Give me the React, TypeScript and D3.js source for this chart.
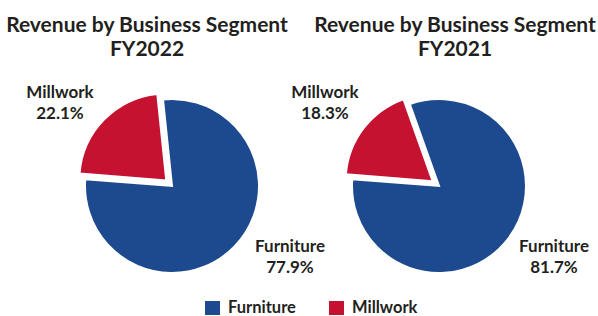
import React from "react";
import * as d3 from "d3";

const categories = ["Millwork", "Furniture"];
const colors = ["#C41230", "#1D4A8E"];
const years = ["FY2022", "FY2021"];
const values2022 = [22.1, 77.9];
const values2021 = [18.3, 81.7];
const legendOrder = ["Furniture", "Millwork"];

const W = 598;
const H = 316;
const FONT = "Lato, 'Open Sans', sans-serif";
const TEXT = "#231F20";

type PieSpec = {
  title: string;
  values: number[];
  cx: number;
  cy: number;
  titleX: number;
  millLabel: [number, number];
  furnLabel: [number, number];
};

const pies: PieSpec[] = [
  { title: years[0], values: values2022, cx: 172, cy: 186, titleX: 147, millLabel: [60, 98], furnLabel: [290, 252] },
  { title: years[1], values: values2021, cx: 439, cy: 186, titleX: 455, millLabel: [325, 98], furnLabel: [554, 252] },
];

const R = 87;
const START = (-85.5 * Math.PI) / 180;
const EXPLODE = 8;

function Pie({ spec }: { spec: PieSpec }) {
  const pie = d3
    .pie<number>()
    .sort(null)
    .value((d) => d)
    .startAngle(START)
    .endAngle(START + 2 * Math.PI);
  const arcs = pie(spec.values);
  const arc = d3.arc<d3.PieArcDatum<number>>().innerRadius(0).outerRadius(R);
  const labels = [spec.millLabel, spec.furnLabel];
  return (
    <g>
      <text x={spec.titleX} y={32} textAnchor="middle" fontFamily={FONT} fontWeight={700} fontSize={21} fill={TEXT}>
        Revenue by Business Segment
      </text>
      <text x={spec.titleX} y={56} textAnchor="middle" fontFamily={FONT} fontWeight={700} fontSize={21} fill={TEXT}>
        {spec.title}
      </text>
      {arcs.map((a, i) => {
        const mid = (a.startAngle + a.endAngle) / 2;
        const off = i === 0 ? EXPLODE : 0;
        const dx = Math.sin(mid) * off;
        const dy = -Math.cos(mid) * off;
        return (
          <path
            key={i}
            d={arc(a) || ""}
            transform={`translate(${spec.cx + dx},${spec.cy + dy})`}
            fill={colors[i]}
            stroke="#fff"
            strokeWidth={2}
          />
        );
      })}
      {arcs.map((a, i) => (
        <g key={"l" + i}>
          <text x={labels[i][0]} y={labels[i][1]} textAnchor="middle" fontFamily={FONT} fontWeight={700} fontSize={17} fill={TEXT}>
            {categories[i]}
          </text>
          <text x={labels[i][0]} y={labels[i][1] + 21} textAnchor="middle" fontFamily={FONT} fontWeight={700} fontSize={17} fill={TEXT}>
            {`${spec.values[i].toFixed(1)}%`}
          </text>
        </g>
      ))}
    </g>
  );
}

export default function App() {
  const legendX = [205, 329];
  return (
    <svg width={W} height={H} style={{ position: "absolute", left: 0, top: 0, background: "#fff" }}>
      <rect width={W} height={H} fill="#fff" />
      {pies.map((p, i) => (
        <Pie key={i} spec={p} />
      ))}
      {legendOrder.map((name, i) => {
        const ci = categories.indexOf(name);
        return (
          <g key={name}>
            <rect x={legendX[i]} y={301} width={15} height={14} fill={colors[ci]} />
            <text x={legendX[i] + 23} y={313} fontFamily={FONT} fontWeight={700} fontSize={16.5} fill={TEXT}>
              {name}
            </text>
          </g>
        );
      })}
    </svg>
  );
}
